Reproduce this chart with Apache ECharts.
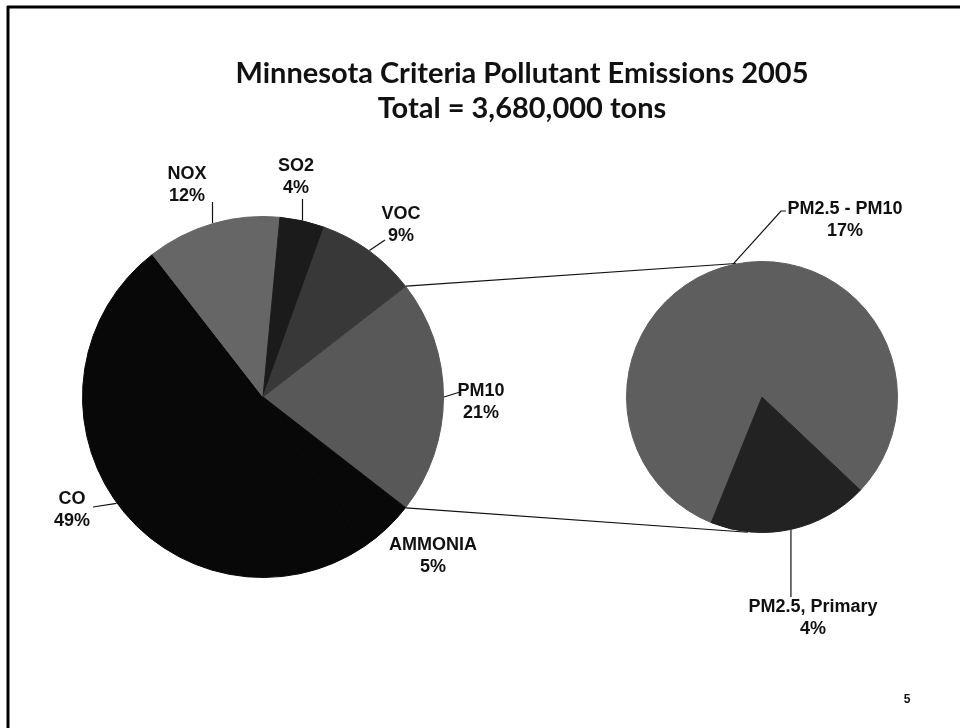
<!DOCTYPE html>
<html><head><meta charset="utf-8">
<script src="https://cdn.jsdelivr.net/npm/echarts@6/dist/echarts.min.js"></script>
<style>html,body{margin:0;padding:0;background:#fff}#c{width:960px;height:728px}</style>
</head><body><div id="c"></div>
<script>
// ---- data ----
const mainNames = ['PM10', 'AMMONIA', 'CO', 'NOX', 'SO2', 'VOC'];
const mainValues = [21, 5, 49, 12, 4, 9];          // % of total emissions
const subNames = ['PM2.5 - PM10', 'PM2.5, Primary'];
const subValues = [17, 4];                          // % of total emissions (split of PM10)
const titleLines = ['Minnesota Criteria Pollutant Emissions 2005', 'Total = 3,680,000 tons'];
const pageNumber = '5';
const otherName = 'PM10';

// ---- layout / style ----
const MAIN_C = [263, 397], MAIN_R = 180.5;
const SUB_C = [762, 397], SUB_R = 135.5;
const SUB_START = 248;
const colorMap = {
  'PM10': '#585858', 'AMMONIA': '#080808', 'CO': '#080808', 'NOX': '#666666',
  'SO2': '#1b1b1b', 'VOC': '#383838', 'PM2.5 - PM10': '#5e5e5e', 'PM2.5, Primary': '#222222'
};
const labelSpots = {
  'NOX': { pos: [187, 185], end: [null, 202] },
  'SO2': { pos: [296, 177], end: [null, 199] },
  'VOC': { pos: [401, 225], end: [385, 240] },
  'PM10': { pos: [481, 402], end: [460, 392] },
  'AMMONIA': { pos: [433, 556], end: null },
  'CO': { pos: [72, 510], end: [93, 507] },
  'PM2.5 - PM10': { pos: [845, 220], mid: [781, 211], end: [786, 211] },
  'PM2.5, Primary': { pos: [813, 618], end: [null, 597] }
};
const FONT = '"Liberation Sans", Arial, sans-serif';

const sum = a => a.reduce((s, v) => s + v, 0);
const mainTotal = sum(mainValues);
const otherIdx = mainNames.indexOf(otherName);
// place the "other" slice centred at 3 o'clock (clockwise drawing)
const mainStart = (mainValues.slice(0, otherIdx).reduce((s, v) => s + v, 0) + mainValues[otherIdx] / 2) / mainTotal * 360;

function midAngles(values, start) {
  const t = sum(values); let cum = 0;
  return values.map(v => { const a = start - (cum + v / 2) / t * 360; cum += v; return a; });
}
function edgePoint(c, r, deg) {
  const rad = deg * Math.PI / 180;
  return [c[0] + r * Math.cos(rad), c[1] - r * Math.sin(rad)];
}
const mainMid = midAngles(mainValues, mainStart);
const subMid = midAngles(subValues, SUB_START);

function layoutFor(names, mids, c, r) {
  return function (p) {
    const name = names[p.dataIndex];
    const s = labelSpots[name];
    const out = { x: s.pos[0], y: s.pos[1], align: 'center', verticalAlign: 'middle' };
    if (s.end) {
      const e = edgePoint(c, r + 0.5, mids[p.dataIndex]);
      const end = [s.end[0] == null ? e[0] : s.end[0], s.end[1]];
      out.labelLinePoints = s.mid ? [e, s.mid, end] : [e, end];
    }
    return out;
  };
}

function makeData(names, values) {
  return names.map((n, i) => ({
    name: n, value: values[i],
    itemStyle: { color: colorMap[n], borderColor: colorMap[n], borderWidth: 1 },
    labelLine: { show: !!labelSpots[n].end }
  }));
}

const labelStyle = {
  show: true, position: 'outside', formatter: '{b}\n{c}%',
  fontFamily: FONT, fontSize: 18, fontWeight: 'bold', color: '#111', lineHeight: 22, align: 'center'
};
const lineStyle = { color: '#111', width: 1.2 };

// connector lines between the "other" slice and the secondary pie
const half = mainValues[otherIdx] / mainTotal * 180;
const cUp0 = edgePoint(MAIN_C, MAIN_R + 0.5, half);
const cDn0 = edgePoint(MAIN_C, MAIN_R + 0.5, -half);
const cUp1 = edgePoint(SUB_C, SUB_R + 0.5, 101);
const cDn1 = edgePoint(SUB_C, SUB_R + 0.5, 264);

const chart = echarts.init(document.getElementById('c'), null, { renderer: 'canvas' });
chart.setOption({
  backgroundColor: '#ffffff',
  animation: false,
  title: {
    text: titleLines.join('\n'), left: 517, top: 51, textAlign: 'center',
    textStyle: { fontFamily: 'Lato, "Open Sans", sans-serif', fontWeight: 'bold', fontSize: 29, lineHeight: 35, color: '#111' }
  },
  graphic: [
    { type: 'line', shape: { x1: 7, y1: 7, x2: 960, y2: 7 }, style: { stroke: '#000', lineWidth: 3 } },
    { type: 'line', shape: { x1: 8, y1: 6, x2: 8, y2: 728 }, style: { stroke: '#000', lineWidth: 3 } },
    { type: 'line', shape: { x1: cUp0[0], y1: cUp0[1], x2: cUp1[0], y2: cUp1[1] }, style: { stroke: '#111', lineWidth: 1.2 } },
    { type: 'line', shape: { x1: cDn0[0], y1: cDn0[1], x2: cDn1[0], y2: cDn1[1] }, style: { stroke: '#111', lineWidth: 1.2 } },
    { type: 'text', x: 907, y: 700, style: { text: pageNumber, font: 'bold 12px ' + FONT, fill: '#111', textAlign: 'center', textVerticalAlign: 'middle' } }
  ],
  series: [
    {
      type: 'pie', center: MAIN_C, radius: MAIN_R, startAngle: mainStart, clockwise: true,
      avoidLabelOverlap: false,
      label: labelStyle, labelLine: { show: true, lineStyle: lineStyle },
      labelLayout: layoutFor(mainNames, mainMid, MAIN_C, MAIN_R),
      emphasis: { disabled: true },
      data: makeData(mainNames, mainValues)
    },
    {
      type: 'pie', center: SUB_C, radius: SUB_R, startAngle: SUB_START, clockwise: true,
      avoidLabelOverlap: false,
      label: labelStyle, labelLine: { show: true, lineStyle: lineStyle },
      labelLayout: layoutFor(subNames, subMid, SUB_C, SUB_R),
      emphasis: { disabled: true },
      data: makeData(subNames, subValues)
    }
  ]
});
</script></body></html>
